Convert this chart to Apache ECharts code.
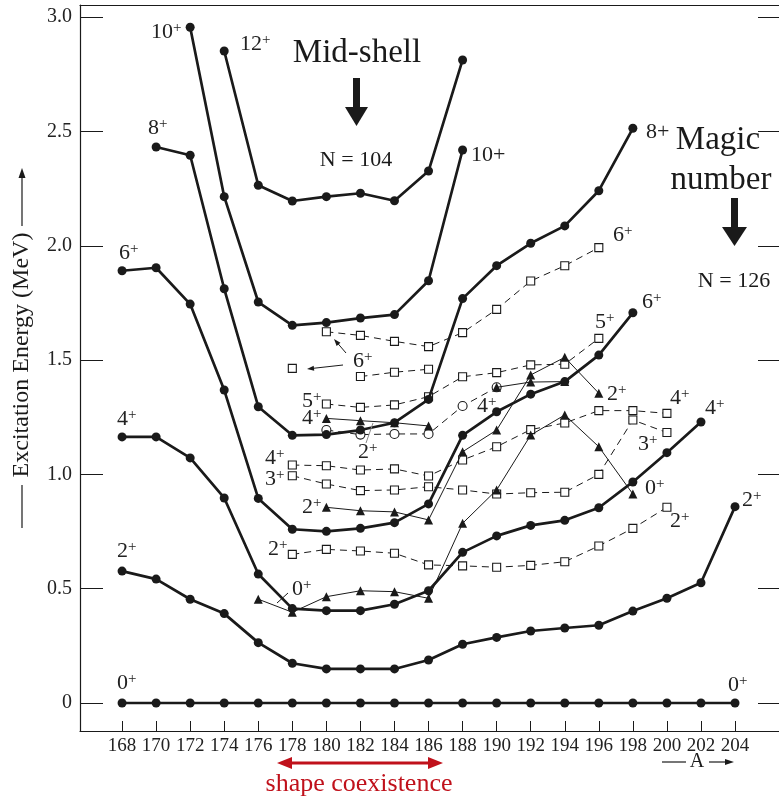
<!DOCTYPE html>
<html><head><meta charset="utf-8">
<script src="https://cdn.jsdelivr.net/npm/echarts@6/dist/echarts.min.js"></script>
<style>html,body{margin:0;padding:0;background:#fff}#c{width:779px;height:801px}</style>
</head><body><div id="c"></div>
<script>
const FONT = '"Liberation Serif", "Times New Roman", serif';
const INK = '#1a1a1a';
const RED = '#c0111b';

// ---- tick values ----
const massTicks = [168,170,172,174,176,178,180,182,184,186,188,190,192,194,196,198,200,202,204];
const energyTicks = [0,0.5,1.0,1.5,2.0,2.5,3.0];

// ---- yrast bands (filled circles, thick lines) ----
const gs0A = massTicks;
const gs0E = [0,0,0,0,0,0,0,0,0,0,0,0,0,0,0,0,0,0,0];
const gs2A = massTicks;
const gs2E = [0.577,0.542,0.454,0.391,0.264,0.174,0.149,0.149,0.149,0.188,0.257,0.287,0.315,0.328,0.340,0.402,0.458,0.526,0.859];
const gs4A = [168,170,172,174,176,178,180,182,184,186,188,190,192,194,196,198,200,202];
const gs4E = [1.164,1.164,1.072,0.897,0.564,0.413,0.404,0.404,0.432,0.491,0.659,0.731,0.777,0.799,0.854,0.967,1.095,1.229];
const gs6A = [168,170,172,174,176,178,180,182,184,186,188,190,192,194,196,198];
const gs6E = [1.891,1.904,1.745,1.369,0.895,0.760,0.751,0.764,0.789,0.871,1.171,1.274,1.351,1.406,1.522,1.707];
const gs8A = [170,172,174,176,178,180,182,184,186,188,190,192,194,196,198];
const gs8E = [2.432,2.396,1.812,1.296,1.171,1.174,1.194,1.226,1.328,1.769,1.913,2.011,2.087,2.241,2.514];
const gs10A = [172,174,176,178,180,182,184,186,188];
const gs10E = [2.956,2.215,1.754,1.652,1.664,1.684,1.699,1.847,2.419];
const gs12A = [174,176,178,180,182,184,186,188];
const gs12E = [2.852,2.265,2.196,2.215,2.230,2.197,2.327,2.813];

// ---- side bands (open squares, dashed) ----
const sq6A = [180,182,184,186,188,190,192,194,196];
const sq6E = [1.624,1.608,1.582,1.559,1.620,1.722,1.846,1.913,1.992];
const sq6isoA = [178];
const sq6isoE = [1.464];
const sqXA = [182,184,186];
const sqXE = [1.428,1.447,1.460];
const sq5A = [180,182,184,186,188,190,192,194,196];
const sq5E = [1.308,1.293,1.304,1.340,1.427,1.445,1.479,1.482,1.595];
const sq4A = [178,180,182,184,186,188,190,192,194,196,198,200];
const sq4E = [1.041,1.038,1.019,1.024,0.993,1.063,1.121,1.196,1.225,1.279,1.279,1.267];
const sq3A = [178,180,182,184,186,188,190,192,194,196,198,200];
const sq3E = [0.994,0.958,0.929,0.932,0.946,0.932,0.914,0.920,0.922,1.000,1.238,1.183];
const sq2A = [178,180,182,184,186,188,190,192,194,196,198,200];
const sq2E = [0.650,0.672,0.665,0.655,0.604,0.600,0.594,0.602,0.618,0.687,0.764,0.856];

// ---- open circles (dashed) ----
const ciA = [180,182,184,186,188,190];
const ciE = [1.194,1.174,1.177,1.177,1.299,1.381];

// ---- triangles (thin solid) ----
const tr0A = [176,178,180,182,184,186,188,190,192,194,196,198];
const tr0E = [0.454,0.397,0.465,0.491,0.487,0.458,0.786,0.932,1.172,1.260,1.121,0.914];
const tr2A = [180,182,184,186,188,190,192,194,196];
const tr2E = [0.856,0.841,0.836,0.801,1.099,1.194,1.435,1.512,1.355];
const tr4A = [180,182,184,186];
const tr4E = [1.245,1.235,1.226,1.212];
const tr4bA = [190,192,194];
const tr4bE = [1.381,1.404,1.406];

const pts = (A, E) => A.map((a, i) => [a, E[i]]);

function yrast(A, E) {
  return { type:'line', data: pts(A,E), symbol:'circle', symbolSize:9, showSymbol:true,
    lineStyle:{color:INK,width:2.7}, itemStyle:{color:INK}, z:5, silent:true, animation:false };
}
function squares(A, E) {
  return { type:'line', data: pts(A,E), symbol:'rect', symbolSize:8, showSymbol:true,
    lineStyle:{color:INK,width:1,type:[7,5]}, itemStyle:{color:'#fff',borderColor:INK,borderWidth:1.1}, z:3, silent:true, animation:false };
}
function circles(A, E) {
  return { type:'line', data: pts(A,E), symbol:'circle', symbolSize:9, showSymbol:true,
    lineStyle:{color:INK,width:1,type:[7,5]}, itemStyle:{color:'#fff',borderColor:INK,borderWidth:1.1}, z:3, silent:true, animation:false };
}
function triangles(A, E) {
  return { type:'line', data: pts(A,E), symbol:'triangle', symbolSize:9, showSymbol:true,
    lineStyle:{color:INK,width:1}, itemStyle:{color:INK}, z:4, silent:true, animation:false };
}

// ---- graphic helpers ----
function txt(x, y, text, size, extra) {
  return Object.assign({ type:'text', x, y, silent:true, z:100,
    style:{ text, font: size + 'px ' + FONT, fill: INK, align:'center', verticalAlign:'middle', textAlign:'center', textVerticalAlign:'middle' } }, extra || {});
}
function state(x, y, num, inline) {
  const t = inline ? '{n|' + num + '+}' : '{n|' + num + '}{s|+}';
  return { type:'text', x, y, silent:true, z:100,
    style:{ text:t, align:'left', verticalAlign:'middle', textAlign:'left', textVerticalAlign:'middle',
      rich:{ n:{fontSize:22, fontFamily:FONT, fill:'#222'}, s:{fontSize:15, fontFamily:FONT, fill:'#222', verticalAlign:'top'} } } };
}
function seg(x1,y1,x2,y2,w,color) {
  return { type:'line', silent:true, z:100, shape:{x1,y1,x2,y2}, style:{stroke:color||INK, lineWidth:w||1} };
}
function head(xt,yt,xf,yf,len,wid,color) {
  const dx = xt-xf, dy = yt-yf, L = Math.hypot(dx,dy), ux = dx/L, uy = dy/L;
  const bx = xt-ux*len, by = yt-uy*len, nx = -uy*wid/2, ny = ux*wid/2;
  return { type:'polygon', silent:true, z:100, shape:{points:[[xt,yt],[bx+nx,by+ny],[bx-nx,by-ny]]}, style:{fill:color||INK} };
}
function arrow(x1,y1,x2,y2,w,len,wid,color) {
  const dx = x2-x1, dy = y2-y1, L = Math.hypot(dx,dy);
  const ex = x2 - dx/L*len*0.8, ey = y2 - dy/L*len*0.8;
  return [seg(x1,y1,ex,ey,w,color), head(x2,y2,x1,y1,len,wid,color)];
}

const graphics = [
  // annotations
  txt(357, 53, 'Mid-shell', 33),
  { type:'rect', silent:true, z:100, shape:{x:353, y:78, width:7, height:31}, style:{fill:INK} },
  { type:'polygon', silent:true, z:100, shape:{points:[[345,107],[368,107],[356.5,126]]}, style:{fill:INK} },
  txt(356, 160, 'N = 104', 22),
  txt(718, 140, 'Magic', 33),
  txt(721, 180, 'number', 33),
  { type:'rect', silent:true, z:100, shape:{x:731, y:198, width:7, height:31}, style:{fill:INK} },
  { type:'polygon', silent:true, z:100, shape:{points:[[722,227],[747,227],[734.5,246]]}, style:{fill:INK} },
  txt(734, 281, 'N = 126', 22),
  // state labels
  state(151, 32, '10'), state(240, 44, '12'), state(148, 128, '8'), state(119, 253, '6'),
  state(471, 155, '10', true), state(646, 132, '8', true),
  state(613, 235, '6'), state(642, 302, '6'), state(595, 322, '5'),
  state(607, 394, '2'), state(670, 398, '4'), state(705, 408, '4'),
  state(638, 444, '3'), state(645, 488, '0'), state(670, 521, '2'),
  state(742, 500, '2'), state(728, 685, '0'), state(117, 683, '0'),
  state(117, 551, '2'), state(117, 419, '4'),
  state(268, 549, '2'), state(292, 589, '0'), state(302, 507, '2'),
  state(265, 479, '3'), state(265, 458, '4'), state(302, 418, '4'), state(302, 401, '5'),
  state(353, 361, '6'), state(358, 452, '2'), state(477, 406, '4'),
  seg(277, 603, 288, 593, 1),
  seg(366, 443, 373, 423, 1, '#888'),
  ...arrow(346, 353, 334, 339, 1, 7, 5),
  ...arrow(343, 365, 307, 369, 1, 7, 5),
  // axis title
  txt(22, 355, 'Excitation Energy (MeV)', 24, { rotation: Math.PI/2 }),
  seg(22, 485, 22, 528, 1.2),
  ...arrow(22, 226, 22, 168, 1.2, 10, 7),
  // A arrow
  seg(662, 762, 686, 762, 1.2),
  txt(697, 762, 'A', 20),
  ...arrow(709, 762, 734, 762, 1.2, 9, 6),
  // shape coexistence
  seg(290, 763, 430, 763, 3, RED),
  head(277, 763, 300, 763, 15, 12, RED),
  head(443, 763, 420, 763, 15, 12, RED),
  txt(359, 784, 'shape coexistence', 26)
];
graphics[graphics.length-1].style.fill = RED;

const chart = echarts.init(document.getElementById('c'), null, {renderer:'canvas'});
const axisCommon = { type:'value', splitLine:{show:false}, axisLine:{show:true, onZero:false, lineStyle:{color:INK, width:1.2}} };
chart.setOption({
  animation:false,
  backgroundColor:'#fff',
  grid:{ left:80, top:5, width:701, height:726, outerBoundsMode:'none', containLabel:false },
  xAxis:[
    Object.assign({}, axisCommon, { position:'bottom', min:165.53, max:206.7,
      axisTick:{show:true, inside:true, length:10, customValues:massTicks, lineStyle:{color:INK,width:1}},
      axisLabel:{show:true, customValues:massTicks, margin:6, fontFamily:FONT, fontSize:19, color:'#222'} }),
    Object.assign({}, axisCommon, { position:'top', min:165.53, max:206.7, axisTick:{show:false}, axisLabel:{show:false} })
  ],
  yAxis:[
    Object.assign({}, axisCommon, { position:'left', min:-0.1225, max:3.0534,
      axisTick:{show:true, inside:true, length:23, customValues:energyTicks, lineStyle:{color:INK,width:1}},
      axisLabel:{show:true, customValues:energyTicks, margin:8, fontFamily:FONT, fontSize:20, color:'#222',
        formatter: v => v === 0 ? '0' : v.toFixed(1)} }),
    Object.assign({}, axisCommon, { position:'right', min:-0.1225, max:3.0534,
      axisTick:{show:true, inside:true, length:23, customValues:energyTicks, lineStyle:{color:INK,width:1}},
      axisLabel:{show:false} })
  ],
  series:[
    squares(sq6A, sq6E), squares(sq6isoA, sq6isoE), squares(sqXA, sqXE), squares(sq5A, sq5E),
    squares(sq4A, sq4E), squares(sq3A, sq3E), squares(sq2A, sq2E),
    circles(ciA, ciE),
    triangles(tr0A, tr0E), triangles(tr2A, tr2E), triangles(tr4A, tr4E), triangles(tr4bA, tr4bE),
    yrast(gs0A, gs0E), yrast(gs2A, gs2E), yrast(gs4A, gs4E), yrast(gs6A, gs6E),
    yrast(gs8A, gs8E), yrast(gs10A, gs10E), yrast(gs12A, gs12E)
  ],
  graphic: graphics
});
</script>
</body></html>
